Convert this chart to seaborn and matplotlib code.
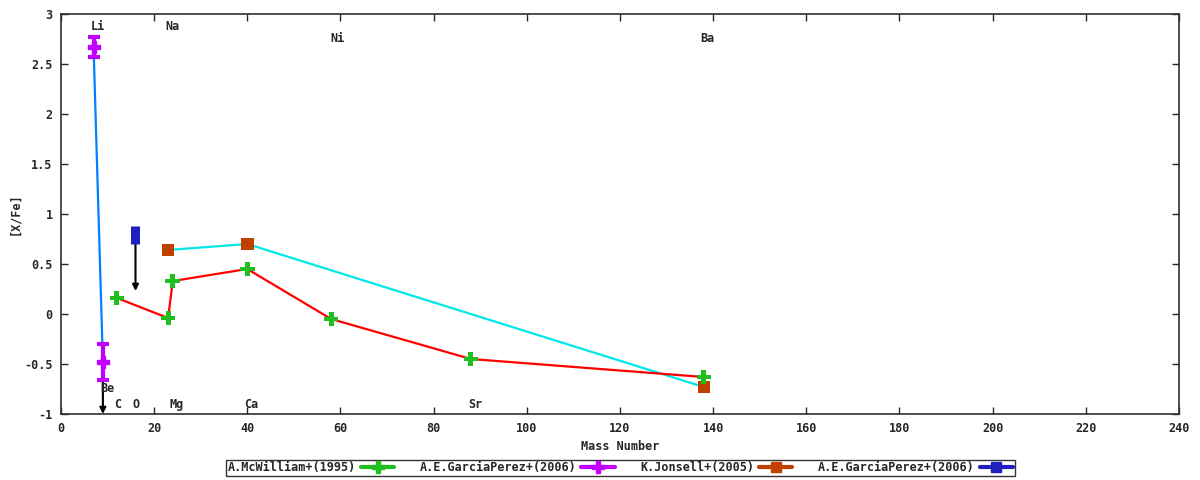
import numpy as np
import pandas as pd
import matplotlib
matplotlib.use("Agg")
import matplotlib.pyplot as plt
import seaborn as sns
from matplotlib.lines import Line2D

# McWilliam+(1995): C, Na, Mg, Ca, Ni, Sr, Ba
mcw_mass = [12, 23, 24, 40, 58, 88, 138]
mcw_xfe = [0.16, -0.04, 0.33, 0.45, -0.05, -0.45, -0.63]

# Jonsell+(2005): Na, Ca, Ba
jon_mass = [23, 40, 138]
jon_xfe = [0.64, 0.70, -0.73]

# GarciaPerez+(2006) Li, Be
gp_mass = [7, 9]
gp_xfe = [2.67, -0.48]
gp_err = [0.10, 0.18]

# GarciaPerez+(2006) O (upper limit)
gpo_mass = [16]
gpo_xfe = [0.79]
gpo_err = [0.09]

# upper limit arrows (x, from, to)
arr_x = [9, 16]
arr_from = [-0.67, 0.70]
arr_to = [-1.0, 0.23]

# element labels
el_names = ["Li", "Na", "Ni", "Ba", "Be", "C", "O", "Mg", "Ca", "Sr"]
el_x = [7.9, 24.0, 59.3, 138.8, 10.0, 12.1, 16.2, 24.8, 40.8, 88.9]
el_y = [2.88, 2.88, 2.76, 2.76, -0.74, -0.90, -0.90, -0.90, -0.90, -0.90]

green = "#1fbf1f"
purple = "#c000ff"
orange = "#c04000"
blue = "#2020c0"

sns.set_style("ticks")
plt.rcParams["font.family"] = ["DejaVu Sans Mono"]
plt.rcParams["font.weight"] = "bold"

fig = plt.figure(figsize=(12, 4.8), dpi=100)
ax = fig.add_axes([0.0508, 0.1375, 0.9317, 0.8333])

mcw = pd.DataFrame({"mass": mcw_mass, "xfe": mcw_xfe})
jon = pd.DataFrame({"mass": jon_mass, "xfe": jon_xfe})
gp = pd.DataFrame({"mass": gp_mass, "xfe": gp_xfe})

sns.lineplot(data=gp, x="mass", y="xfe", sort=False, color="#0080ff", lw=1.6, ax=ax)
sns.lineplot(data=jon, x="mass", y="xfe", sort=False, color="#00e8e8", lw=1.6, ax=ax)
sns.lineplot(data=mcw, x="mass", y="xfe", sort=False, color="red", lw=1.6, ax=ax)

for x, y0, y1 in zip(arr_x, arr_from, arr_to):
    ax.annotate("", xy=(x, y1), xytext=(x, y0),
                arrowprops=dict(arrowstyle="-|>", color="black", lw=1.5,
                                mutation_scale=9, shrinkA=0, shrinkB=0))

ax.errorbar(gp_mass, gp_xfe, yerr=gp_err, fmt="P", color=purple, ms=9,
            elinewidth=3, capsize=4, capthick=3, zorder=5)
ax.errorbar(gpo_mass, gpo_xfe, yerr=gpo_err, fmt="none", ecolor=blue,
            elinewidth=6.5, capsize=0, zorder=5)
sns.scatterplot(data=jon, x="mass", y="xfe", marker="s", s=80, color=orange,
                edgecolor="none", zorder=6, ax=ax)
sns.scatterplot(data=mcw, x="mass", y="xfe", marker="P", s=110, color=green,
                edgecolor="none", zorder=7, ax=ax)

for name, x, y in zip(el_names, el_x, el_y):
    ax.text(x, y, name, ha="center", va="center", fontsize=8.5, fontweight="bold")

ax.set_xlim(0, 240)
ax.set_ylim(-1, 3)
ax.set_xticks(np.arange(0, 241, 20))
ax.set_yticks(np.arange(-1, 3.01, 0.5))
ax.set_yticklabels(["-1", "-0.5", "0", "0.5", "1", "1.5", "2", "2.5", "3"])
ax.tick_params(direction="in", top=True, right=True, length=5, width=1,
               labelsize=8.5, pad=6)
for lab in ax.get_xticklabels() + ax.get_yticklabels():
    lab.set_fontweight("bold")
for sp in ax.spines.values():
    sp.set_visible(True)
    sp.set_linewidth(1.2)
    sp.set_color("#303030")

ax.set_xlabel("Mass Number", fontsize=8.5, fontweight="bold", labelpad=3)
ax.set_ylabel("[X/Fe]", fontsize=8.5, fontweight="bold", labelpad=2)

handles = [
    Line2D([], [], color=green, lw=3, marker="P", ms=8),
    Line2D([], [], color=purple, lw=3, marker="P", ms=8),
    Line2D([], [], color=orange, lw=3, marker="s", ms=7),
    Line2D([], [], color=blue, lw=3, marker="s", ms=7),
]
labels = ["A.McWilliam+(1995)", "A.E.GarciaPerez+(2006)",
          "K.Jonsell+(2005)", "A.E.GarciaPerez+(2006)"]
leg = fig.legend(handles, labels, loc="center", bbox_to_anchor=(0.517, 0.025),
                 ncol=4, markerfirst=False, fontsize=8.5, frameon=True,
                 fancybox=False, edgecolor="black", handlelength=2.8,
                 columnspacing=2.2, borderpad=0.15, handletextpad=0.4)
leg.get_frame().set_linewidth(1.0)
for t in leg.get_texts():
    t.set_fontweight("bold")

fig.savefig("out.png", dpi=100)
